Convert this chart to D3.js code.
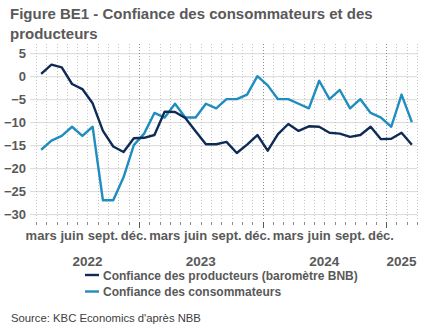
<!DOCTYPE html>
<html>
<head>
<meta charset="utf-8">
<script src="https://cdn.jsdelivr.net/npm/d3@7"></script>
<style>
  html, body { margin: 0; padding: 0; background: #fff; }
  svg { display: block; font-family: "Liberation Sans Narrow", "Liberation Sans", sans-serif; }
</style>
</head>
<body>
<div id="block"></div>
<script>
// monthly series, March 2022 -> March 2025
var start = new Date(2022, 2, 1),
    end = new Date(2025, 3, 1);

var monthNames = ["janv.", "févr.", "mars", "avr.", "mai", "juin",
                  "juil.", "août", "sept.", "oct.", "nov.", "déc."];
var labelledMonths = ["mars", "juin", "sept.", "déc."];
var years = ["2022", "2023", "2024", "2025"];
var yTicks = [5, 0, -5, -10, -15, -20, -25, -30];

var producers = [0.5, 2.5, 1.9, -1.7, -2.8, -5.9, -11.9, -15.3, -16.5, -13.5,
                 -13.4, -12.8, -7.7, -7.8, -9.1, -12.0, -14.8, -14.8, -14.3, -16.7,
                 -14.9, -12.8, -16.2, -12.6, -10.4, -11.9, -10.9, -11.0, -12.3, -12.5,
                 -13.2, -12.8, -11.0, -13.7, -13.6, -12.3, -14.9];

var consumers = [-16, -14, -13, -11, -13, -11, -27, -27, -22, -15,
                 -12.5, -8, -9, -6, -9, -9, -6, -7, -5, -5,
                 -4, 0, -2, -5, -5, -6, -7, -1, -5, -3,
                 -7, -5, -8, -9, -11, -4, -10];

var series = [
    {name: "Confiance des producteurs (baromètre BNB)", values: producers, color: "#0f2b55"},
    {name: "Confiance des consommateurs", values: consumers, color: "#1f8dbf"}
];

// dimensions
var svg_dx = 432,
    svg_dy = 334,
    plot = {left: 36, right: 417, top: 44, bottom: 221};

var months = d3.timeMonth.range(start, end);

var svg = d3.select("#block")
            .append("svg")
            .attr("width", svg_dx)
            .attr("height", svg_dy);

var xScale = d3.scaleBand()
               .domain(d3.range(months.length))
               .range([plot.left, plot.right])
               .padding(0);

var yScale = d3.scaleLinear()
               .domain([-31.5, 7])
               .range([plot.bottom, plot.top]);

var bw = xScale.bandwidth();

// title
svg.append("text")
   .attr("x", 10)
   .attr("font-size", 15)
   .attr("font-weight", "bold")
   .attr("fill", "#595959")
   .selectAll("tspan")
   .data(["Figure BE1 - Confiance des consommateurs et des", "producteurs"])
   .enter()
   .append("tspan")
   .attr("x", 10)
   .attr("y", function(d, i) { return 19 + i * 20; })
   .text(function(d) { return d; });

// horizontal grid + y labels
var yAxis = d3.axisLeft(yScale)
              .tickValues(yTicks)
              .tickSize(plot.right - plot.left + 6)
              .tickPadding(4)
              .tickFormat(d3.format("d"));

var y_axis = svg.append("g")
                .attr("transform", "translate(" + plot.right + ",0)")
                .call(yAxis);

y_axis.select(".domain").remove();
y_axis.selectAll(".tick line").attr("stroke", "#d9d9d9");
y_axis.selectAll(".tick text")
      .attr("font-family", "Liberation Sans Narrow, Liberation Sans, sans-serif")
      .attr("font-size", 13)
      .attr("font-weight", "bold")
      .attr("fill", "#595959")
      .attr("x", -(plot.right - plot.left) - 10);

// month boundaries: dotted verticals and small ticks under the plot
var bounds = d3.range(months.length + 1).map(function(i) {
    return {x: plot.left + i * bw,
            yearStart: i < months.length && months[i].getMonth() === 0};
});

svg.append("g")
   .selectAll("line")
   .data(bounds)
   .enter()
   .append("line")
   .attr("x1", function(d) { return Math.round(d.x) + 0.5; })
   .attr("x2", function(d) { return Math.round(d.x) + 0.5; })
   .attr("y1", plot.top)
   .attr("y2", plot.bottom)
   .attr("stroke", function(d) { return d.yearStart ? "#8c8c8c" : "#c4c4c4"; })
   .attr("stroke-dasharray", "1,2");

svg.append("g")
   .selectAll("line")
   .data(bounds)
   .enter()
   .append("line")
   .attr("x1", function(d) { return Math.round(d.x) + 0.5; })
   .attr("x2", function(d) { return Math.round(d.x) + 0.5; })
   .attr("y1", plot.bottom + 1)
   .attr("y2", function(d) { return d.yearStart ? plot.bottom + 7 : plot.bottom + 4; })
   .attr("stroke", function(d) { return d.yearStart ? "#595959" : "#8c8c8c"; });

// month labels, every third category (none for the partial last year)
svg.append("g")
   .selectAll("text")
   .data(months.filter(function(m) {
       return m.getFullYear() < 2025 && labelledMonths.indexOf(monthNames[m.getMonth()]) >= 0;
   }))
   .enter()
   .append("text")
   .attr("x", function(m) { return xScale(months.indexOf(m)) + bw / 2; })
   .attr("y", 240)
   .attr("text-anchor", "middle")
   .attr("font-size", 13)
   .attr("font-weight", "bold")
   .attr("fill", "#595959")
   .text(function(m) { return monthNames[m.getMonth()]; });

// year labels centred on their group of months
svg.append("g")
   .selectAll("text")
   .data(years)
   .enter()
   .append("text")
   .attr("x", function(yr) {
       var idx = months.map(function(m, i) { return m.getFullYear() === +yr ? i : -1; })
                       .filter(function(i) { return i >= 0; });
       return (xScale(idx[0]) + xScale(idx[idx.length - 1]) + bw) / 2;
   })
   .attr("y", 266)
   .attr("text-anchor", "middle")
   .attr("font-size", 13.5)
   .attr("font-weight", "bold")
   .attr("fill", "#595959")
   .text(function(yr) { return yr; });

// lines
var line = d3.line()
             .x(function(d, i) { return xScale(i) + bw / 2; })
             .y(function(d) { return yScale(d); });

svg.append("g")
   .selectAll("path")
   .data(series.slice().reverse())
   .enter()
   .append("path")
   .attr("d", function(s) { return line(s.values); })
   .attr("fill", "none")
   .attr("stroke", function(s) { return s.color; })
   .attr("stroke-width", 2.4)
   .attr("stroke-linejoin", "round");

// legend
var legend = svg.append("g")
                .selectAll("g")
                .data(series)
                .enter()
                .append("g")
                .attr("transform", function(s, i) { return "translate(85," + (275 + i * 16.5) + ")"; });

legend.append("line")
      .attr("x1", 0)
      .attr("x2", 14)
      .attr("stroke", function(s) { return s.color; })
      .attr("stroke-width", 2.4);

legend.append("text")
      .attr("x", 18)
      .attr("y", 4.5)
      .attr("font-size", 12)
      .attr("font-weight", "bold")
      .attr("fill", "#595959")
      .text(function(s) { return s.name; });

// source
svg.append("text")
   .attr("x", 11)
   .attr("y", 322)
   .attr("font-size", 11.3)
   .attr("fill", "#404040")
   .text("Source: KBC Economics d'après NBB");
</script>
</body>
</html>
